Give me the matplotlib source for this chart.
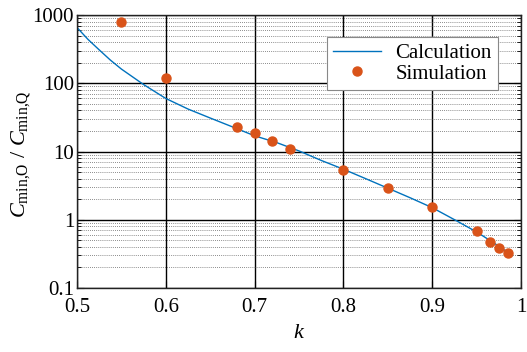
import numpy as np
import matplotlib
matplotlib.use('Agg')
import matplotlib.pyplot as plt
from matplotlib.ticker import FixedLocator, LogLocator, NullFormatter

plt.rcParams['font.family'] = ['Liberation Serif', 'DejaVu Serif']
plt.rcParams['mathtext.fontset'] = 'custom'
plt.rcParams['mathtext.rm'] = 'Liberation Serif'
plt.rcParams['mathtext.it'] = 'Liberation Serif:italic'

# calculation curve
k_calc = [0.5, 0.5125, 0.525, 0.5375, 0.55, 0.575, 0.6, 0.625, 0.65, 0.675, 0.7, 0.725, 0.75,
          0.775, 0.8, 0.825, 0.85, 0.875, 0.9, 0.925, 0.95, 0.97, 0.99]
c_calc = [660, 440, 310, 220, 162, 96, 60, 42, 31, 23, 17, 13.5, 10.2,
          7.4, 5.5, 4.0, 2.9, 2.1, 1.5, 1.0, 0.66, 0.45, 0.30]

# simulation points
k_sim = [0.55, 0.6, 0.68, 0.7, 0.72, 0.74, 0.8, 0.85, 0.9, 0.95, 0.965, 0.975, 0.985]
c_sim = [800, 120, 23, 19, 14.5, 11, 5.4, 2.95, 1.55, 0.69, 0.47, 0.39, 0.33]

xticks = [0.5, 0.6, 0.7, 0.8, 0.9, 1.0]
xticklabels = ['0.5', '0.6', '0.7', '0.8', '0.9', '1']
yticks = [0.1, 1, 10, 100, 1000]
yticklabels = ['0.1', '1', '10', '100', '1000']

fig = plt.figure(figsize=(5.27, 3.52), dpi=100)
ax = fig.add_axes([0.146, 0.182, 0.843, 0.775])

ax.plot(k_calc, c_calc, color='#0072BD', lw=1.0, label='Calculation')
ax.plot(k_sim, c_sim, 'o', color='#D95319', ms=6.5, label='Simulation')

ax.set_yscale('log')
ax.set_xlim(0.5, 1.0)
ax.set_ylim(0.1, 1000)
ax.xaxis.set_major_locator(FixedLocator(xticks))
ax.set_xticklabels(xticklabels)
ax.yaxis.set_major_locator(FixedLocator(yticks))
ax.set_yticklabels(yticklabels)
ax.yaxis.set_minor_locator(LogLocator(base=10, subs=np.arange(2, 10)))
ax.yaxis.set_minor_formatter(NullFormatter())

ax.grid(True, which='major', color='black', lw=1.0)
ax.grid(True, which='minor', axis='y', color='#666666', lw=0.6, linestyle=(0, (1, 1.5)))
ax.set_axisbelow(True)

ax.tick_params(which='both', direction='in', right=True, top=True, labelsize=15)
ax.tick_params(which='major', length=5)
ax.tick_params(axis='x', which='major', pad=7)
ax.tick_params(axis='y', which='major', pad=2)
ax.tick_params(which='minor', length=3)
for s in ax.spines.values():
    s.set_linewidth(1.0)
    s.set_color('#222222')

ax.set_xlabel('$k$', fontsize=16, labelpad=5)
ax.set_ylabel(r'$C_{\mathrm{min{,}O}}$ / $C_{\mathrm{min{,}Q}}$', fontsize=16)
ax.yaxis.set_label_coords(-0.1, 0.49)

leg = ax.legend(loc='upper right', bbox_to_anchor=(0.948, 0.919), borderaxespad=0,
                fontsize=15, fancybox=False, framealpha=1, edgecolor='#888888',
                borderpad=0.3, handlelength=2.3, handletextpad=0.7, labelspacing=0.05)
leg.get_frame().set_linewidth(0.8)

plt.savefig('out.png', dpi=100)
